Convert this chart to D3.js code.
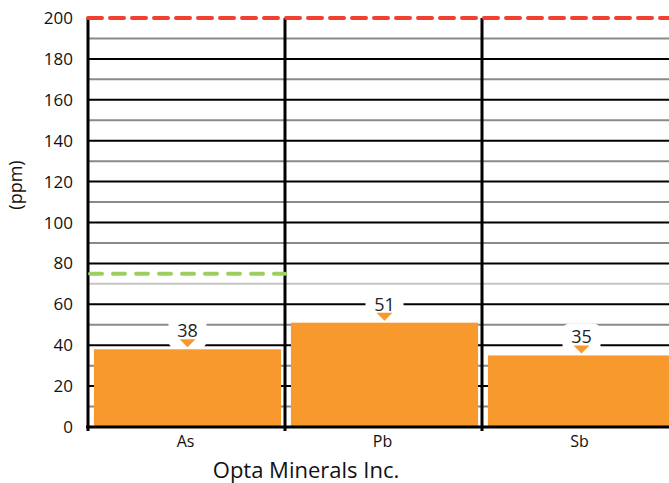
<!DOCTYPE html>
<html>
<head>
<meta charset="utf-8">
<script src="https://cdn.jsdelivr.net/npm/d3@7"></script>
<style>
  body { margin: 0; background: #fff; }
  text { font-family: "Open Sans", sans-serif; }
</style>
</head>
<body>
<div id="app"></div>
<script>
const categories = ['As', 'Pb', 'Sb']
const values = [38, 51, 35]
const yTicks = [0, 20, 40, 60, 80, 100, 120, 140, 160, 180, 200]
const minorTicks = [10, 30, 50, 70, 90, 110, 130, 150, 170, 190]
const limitRed = 200
const limitGreen = 75   // only for As
const xTitle = 'Opta Minerals Inc.'
const yTitle = '(ppm)'

const width = 669, height = 483

const svg = d3.select('#app').append('svg')
    .attr('width', width)
    .attr('height', height)

const y = d3.scaleLinear().domain([0, 200]).range([427, 18])
const x = d3.scaleBand().domain(categories).range([88, 679])
    .paddingInner(0.05).paddingOuter(0.025)
const step = x.step()
const bandLeft = c => 88 + categories.indexOf(c) * step

// minor grid
svg.append('g').selectAll('line')
    .data(minorTicks)
    .enter().append('line')
        .attr('x1', 88).attr('x2', width)
        .attr('y1', d => y(d)).attr('y2', d => y(d))
        .style('stroke', d => d === 70 ? '#c4c4c4' : '#8a8a8a')
        .style('stroke-width', 2)

// major grid
svg.append('g').selectAll('line')
    .data(yTicks.filter(d => d > 0 && d < 200))
    .enter().append('line')
        .attr('x1', 88).attr('x2', width)
        .attr('y1', d => y(d)).attr('y2', d => y(d))
        .style('stroke', '#000')
        .style('stroke-width', 2)

// bars
svg.append('g').selectAll('rect')
    .data(categories)
    .enter().append('rect')
        .attr('x', d => x(d) + 1)
        .attr('width', x.bandwidth())
        .attr('y', (d, i) => y(values[i]))
        .attr('height', (d, i) => y(0) - y(values[i]))
        .style('fill', '#f7992c')

// vertical band separators
svg.append('g').selectAll('line')
    .data(d3.range(categories.length + 1))
    .enter().append('line')
        .attr('x1', i => 88 + i * step).attr('x2', i => 88 + i * step)
        .attr('y1', y(200)).attr('y2', y(0) + 4)
        .style('stroke', '#000')
        .style('stroke-width', 3)

// baseline
svg.append('line')
    .attr('x1', 86).attr('x2', width)
    .attr('y1', y(0)).attr('y2', y(0))
    .style('stroke', '#000').style('stroke-width', 3)

// limit lines
svg.append('line')
    .attr('x1', 88).attr('x2', width)
    .attr('y1', y(limitRed)).attr('y2', y(limitRed))
    .style('stroke', '#f04030').style('stroke-width', 4)
    .style('stroke-dasharray', '14,8')
    .style('stroke-linecap', 'round')

svg.append('line')
    .attr('x1', 90).attr('x2', bandLeft('Pb'))
    .attr('y1', y(limitGreen)).attr('y2', y(limitGreen))
    .style('stroke', '#9ccf60').style('stroke-width', 4)
    .style('stroke-dasharray', '12,11')
    .style('stroke-linecap', 'round')

// value labels
const lab = svg.append('g').selectAll('g')
    .data(categories)
    .enter().append('g')
        .attr('transform', (d, i) => 'translate(' + (x(d) + 1 + x.bandwidth() / 2) + ',' + y(values[i]) + ')')

lab.append('rect')
    .attr('x', -19).attr('y', -32).attr('width', 38).attr('height', 31)
    .attr('rx', 7)
    .style('fill', '#fff')

lab.append('path')
    .attr('d', 'M-8,-10 L8,-10 L0,-2 Z')
    .style('fill', '#f7992c')

lab.append('text')
    .attr('y', -12)
    .attr('text-anchor', 'middle')
    .style('font-size', '18px')
    .style('fill', '#222')
    .text((d, i) => values[i])

// y tick labels
svg.append('g').selectAll('text')
    .data(yTicks)
    .enter().append('text')
        .attr('x', 73)
        .attr('y', d => y(d) + 6)
        .attr('text-anchor', 'end')
        .style('font-size', '17px')
        .style('fill', '#111')
        .text(d => d)

// category labels
svg.append('g').selectAll('text')
    .data(categories)
    .enter().append('text')
        .attr('x', d => x(d) + x.bandwidth() / 2 - 1)
        .attr('y', 447)
        .attr('text-anchor', 'middle')
        .style('font-size', '16px')
        .style('fill', '#111')
        .text(d => d)

svg.append('text')
    .attr('x', 306).attr('y', 478)
    .attr('text-anchor', 'middle')
    .style('font-size', '22px')
    .style('fill', '#111')
    .text(xTitle)

svg.append('text')
    .attr('transform', 'translate(22,' + 185 + ') rotate(-90)')
    .attr('text-anchor', 'middle')
    .style('font-size', '18px')
    .style('fill', '#111')
    .text(yTitle)
</script>
</body>
</html>
